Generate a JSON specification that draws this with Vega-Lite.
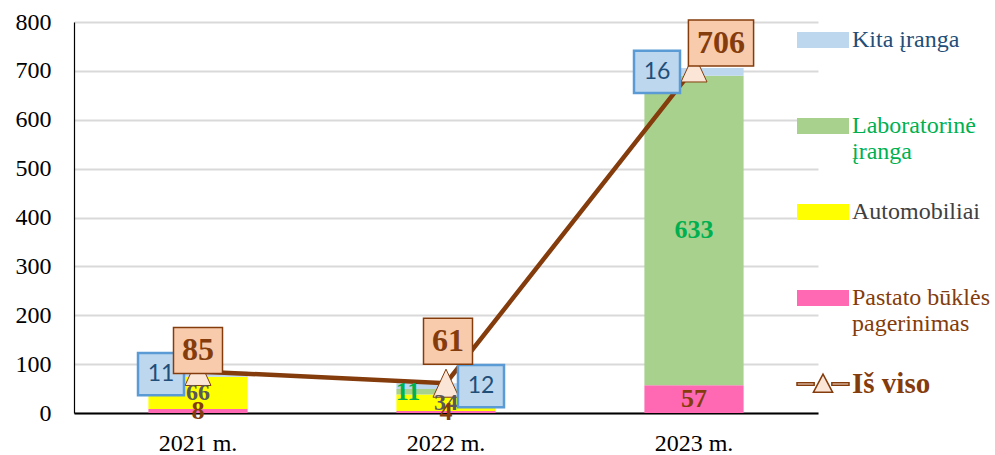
{
  "$schema": "https://vega.github.io/schema/vega-lite/v6.json",
  "width": 744,
  "height": 391,
  "autosize": {"type": "none"},
  "padding": {"left": 74, "top": 22, "right": 177, "bottom": 42},
  "background": "white",
  "config": {
    "font": "Liberation Serif",
    "view": {"stroke": null},
    "axis": {"labelFont": "Liberation Serif", "labelFontSize": 24, "labelColor": "#000000", "ticks": false, "title": null}
  },
  "datasets": {
    "parts": [
      {"year": "2021 m.", "category": "Pastato būklės pagerinimas", "value": 8},
      {"year": "2021 m.", "category": "Automobiliai", "value": 66},
      {"year": "2021 m.", "category": "Laboratorinė įranga", "value": 0},
      {"year": "2021 m.", "category": "Kita įranga", "value": 11},
      {"year": "2022 m.", "category": "Pastato būklės pagerinimas", "value": 4},
      {"year": "2022 m.", "category": "Automobiliai", "value": 34},
      {"year": "2022 m.", "category": "Laboratorinė įranga", "value": 11},
      {"year": "2022 m.", "category": "Kita įranga", "value": 12},
      {"year": "2023 m.", "category": "Pastato būklės pagerinimas", "value": 57},
      {"year": "2023 m.", "category": "Automobiliai", "value": 0},
      {"year": "2023 m.", "category": "Laboratorinė įranga", "value": 633},
      {"year": "2023 m.", "category": "Kita įranga", "value": 16}
    ],
    "totals": [
      {"year": "2021 m.", "total": 85},
      {"year": "2022 m.", "total": 61},
      {"year": "2023 m.", "total": 706}
    ]
  },
  "layer": [
    {
      "data": {"name": "parts"},
      "transform": [
        {"calculate": "indexof(['Pastato būklės pagerinimas','Automobiliai','Laboratorinė įranga','Kita įranga'], datum.category)", "as": "stackIdx"},
        {"stack": "value", "groupby": ["year"], "sort": [{"field": "stackIdx"}], "as": ["v0", "v1"]}
      ],
      "mark": {"type": "bar", "width": {"band": 0.4}},
      "encoding": {
        "x": {"field": "year", "type": "nominal", "scale": {"paddingInner": 0, "paddingOuter": 0},
          "axis": {"labelAngle": 0, "labelPadding": 18, "domainColor": "#000000", "domainWidth": 2, "grid": false}},
        "y": {"field": "v0", "type": "quantitative", "scale": {"domain": [0, 800]},
          "axis": {"values": [0, 100, 200, 300, 400, 500, 600, 700, 800], "labelPadding": 23, "domainColor": "#000000", "domainWidth": 1.2, "gridColor": "#d9d9d9", "gridWidth": 2}},
        "y2": {"field": "v1"},
        "color": {
          "field": "category", "type": "nominal",
          "scale": {
            "domain": ["Kita įranga", "Laboratorinė įranga", "Automobiliai", "Pastato būklės pagerinimas", "Iš viso"],
            "range": ["#BDD7EE", "#A9D18E", "#FFFF00", "#FF69B4", "#FBE5D6"]
          },
          "legend": {
            "orient": "none", "legendX": 737, "legendY": 6, "title": null, "direction": "vertical",
            "labelFont": "Liberation Serif", "labelFontSize": 24, "labelOffset": 17, "labelLimit": 400,
            "symbolSize": 2704, "symbolType": "M-1,-0.31H1V0.31H-1Z", "rowPadding": 34, "gridAlign": "all",
            "labelExpr": "datum.label == 'Laboratorinė įranga' ? ['Laboratorinė', 'įranga'] : datum.label == 'Pastato būklės pagerinimas' ? ['Pastato būklės', 'pagerinimas'] : datum.label",
            "encoding": {
              "symbols": {
                "shape": {"value": {"expr": "datum.value == 'Iš viso' ? 'M-1,-0.05H-0.34V0.05H-1Z M0.34,-0.05H1V0.05H0.34Z M0,-0.38L0.37,0.32H-0.37Z' : 'M-1,-0.31H1V0.31H-1Z'"}},
                "fill": {"value": {"expr": "['#BDD7EE','#A9D18E','#FFFF00','#FF69B4','#FBE5D6'][indexof(['Kita įranga','Laboratorinė įranga','Automobiliai','Pastato būklės pagerinimas','Iš viso'], datum.value)]"}},
                "stroke": {"value": {"expr": "datum.value == 'Iš viso' ? '#843C0C' : 'transparent'"}},
                "strokeWidth": {"value": {"expr": "datum.value == 'Iš viso' ? 1.5 : 0"}}
              },
              "labels": {
                "fill": {"value": {"expr": "['#1F4E79','#00B050','#404040','#843C0C','#843C0C'][indexof(['Kita įranga','Laboratorinė įranga','Automobiliai','Pastato būklės pagerinimas','Iš viso'], datum.value)]"}},
                "fontWeight": {"value": {"expr": "datum.value == 'Iš viso' ? 'bold' : 'normal'"}},
                "fontSize": {"value": {"expr": "datum.value == 'Iš viso' ? 29 : 24"}}
              }
            }
          }
        },
        "order": {"field": "stackIdx"}
      }
    },
    {
      "data": {"name": "totals"},
      "mark": {"type": "line", "color": "#843C0C", "strokeWidth": 4.5},
      "encoding": {
        "x": {"field": "year", "type": "nominal"},
        "y": {"field": "total", "type": "quantitative"}
      }
    },
    {
      "data": {"name": "totals"},
      "mark": {"type": "point", "shape": "M0,-1.08L1,1.08H-1Z", "size": 676, "filled": true, "fill": "#FBE5D6", "stroke": "#843C0C", "strokeWidth": 1, "opacity": 1},
      "encoding": {
        "x": {"field": "year", "type": "nominal"},
        "y": {"field": "total", "type": "quantitative"}
      }
    },
    {
      "data": {"name": "parts"},
      "transform": [
        {"calculate": "indexof(['Pastato būklės pagerinimas','Automobiliai','Laboratorinė įranga','Kita įranga'], datum.category)", "as": "stackIdx"},
        {"stack": "value", "groupby": ["year"], "sort": [{"field": "stackIdx"}], "as": ["v0", "v1"]},
        {"calculate": "(datum.v0 + datum.v1) / 2", "as": "mid"},
        {"filter": "datum.value > 0"}
      ],
      "layer": [
        {
          "transform": [{"filter": "datum.category == 'Automobiliai'"}],
          "mark": {"type": "text", "font": "Liberation Serif", "fontSize": 24, "fontWeight": "bold", "color": "#595959"},
          "encoding": {"x": {"field": "year", "type": "nominal"}, "y": {"field": "mid", "type": "quantitative"}, "text": {"field": "value"}}
        },
        {
          "transform": [{"filter": "datum.category == 'Laboratorinė įranga' && datum.year != '2022 m.'"}],
          "mark": {"type": "text", "font": "Liberation Serif", "fontSize": 26, "fontWeight": "bold", "color": "#00B050"},
          "encoding": {"x": {"field": "year", "type": "nominal"}, "y": {"field": "mid", "type": "quantitative"}, "text": {"field": "value"}}
        },
        {
          "transform": [{"filter": "datum.category == 'Laboratorinė įranga' && datum.year == '2022 m.'"}],
          "mark": {"type": "text", "font": "Liberation Serif", "fontSize": 26, "fontWeight": "bold", "color": "#00B050", "dx": -38},
          "encoding": {"x": {"field": "year", "type": "nominal"}, "y": {"field": "mid", "type": "quantitative"}, "text": {"field": "value"}}
        },
        {
          "transform": [{"filter": "datum.category == 'Pastato būklės pagerinimas'"}],
          "mark": {"type": "text", "font": "Liberation Serif", "fontSize": 26, "fontWeight": "bold", "color": "#843C0C"},
          "encoding": {"x": {"field": "year", "type": "nominal"}, "y": {"field": "mid", "type": "quantitative"}, "text": {"field": "value"}}
        },
        {
          "transform": [{"filter": "datum.category == 'Kita įranga' && datum.year != '2022 m.'"}],
          "layer": [
            {
              "mark": {"type": "point", "shape": "M-1,-0.92H1V0.92H-1Z", "size": 2116, "filled": true, "fill": "#BDD7EE", "stroke": "#5B9BD5", "strokeWidth": 2.5, "opacity": 1, "xOffset": -37},
              "encoding": {"x": {"field": "year", "type": "nominal"}, "y": {"field": "mid", "type": "quantitative"}}
            },
            {
              "mark": {"type": "text", "font": "Lato", "fontSize": 23, "color": "#1F4E79", "dx": -37},
              "encoding": {"x": {"field": "year", "type": "nominal"}, "y": {"field": "mid", "type": "quantitative"}, "text": {"field": "value"}}
            }
          ]
        },
        {
          "transform": [{"filter": "datum.category == 'Kita įranga' && datum.year == '2022 m.'"}],
          "layer": [
            {
              "mark": {"type": "point", "shape": "M-1,-0.92H1V0.92H-1Z", "size": 2116, "filled": true, "fill": "#BDD7EE", "stroke": "#5B9BD5", "strokeWidth": 2.5, "opacity": 1, "xOffset": 35},
              "encoding": {"x": {"field": "year", "type": "nominal"}, "y": {"field": "mid", "type": "quantitative"}}
            },
            {
              "mark": {"type": "text", "font": "Lato", "fontSize": 23, "color": "#1F4E79", "dx": 35},
              "encoding": {"x": {"field": "year", "type": "nominal"}, "y": {"field": "mid", "type": "quantitative"}, "text": {"field": "value"}}
            }
          ]
        }
      ]
    },
    {
      "data": {"name": "totals"},
      "transform": [{"filter": "datum.year == '2021 m.'"}],
      "layer": [
        {
          "mark": {"type": "point", "shape": "M-1,-0.94H1V0.94H-1Z", "size": 2401, "filled": true, "fill": "#F8CBAD", "stroke": "#843C0C", "strokeWidth": 1.5, "opacity": 1, "yOffset": -21},
          "encoding": {"x": {"field": "year", "type": "nominal"}, "y": {"field": "total", "type": "quantitative"}}
        },
        {
          "mark": {"type": "text", "font": "Liberation Serif", "fontSize": 32, "fontWeight": "bold", "color": "#843C0C", "dy": -21},
          "encoding": {"x": {"field": "year", "type": "nominal"}, "y": {"field": "total", "type": "quantitative"}, "text": {"field": "total"}}
        }
      ]
    },
    {
      "data": {"name": "totals"},
      "transform": [{"filter": "datum.year == '2022 m.'"}],
      "layer": [
        {
          "mark": {"type": "point", "shape": "M-1,-0.94H1V0.94H-1Z", "size": 2401, "filled": true, "fill": "#F8CBAD", "stroke": "#843C0C", "strokeWidth": 1.5, "opacity": 1, "yOffset": -42, "xOffset": 2},
          "encoding": {"x": {"field": "year", "type": "nominal"}, "y": {"field": "total", "type": "quantitative"}}
        },
        {
          "mark": {"type": "text", "font": "Liberation Serif", "fontSize": 32, "fontWeight": "bold", "color": "#843C0C", "dy": -42, "dx": 2},
          "encoding": {"x": {"field": "year", "type": "nominal"}, "y": {"field": "total", "type": "quantitative"}, "text": {"field": "total"}}
        }
      ]
    },
    {
      "data": {"name": "totals"},
      "transform": [{"filter": "datum.year == '2023 m.'"}],
      "layer": [
        {
          "mark": {"type": "point", "shape": "M-1.33,-0.94H1.33V0.94H-1.33Z", "size": 2401, "filled": true, "fill": "#F8CBAD", "stroke": "#843C0C", "strokeWidth": 1.5, "opacity": 1, "yOffset": -25, "xOffset": 27},
          "encoding": {"x": {"field": "year", "type": "nominal"}, "y": {"field": "total", "type": "quantitative"}}
        },
        {
          "mark": {"type": "text", "font": "Liberation Serif", "fontSize": 32, "fontWeight": "bold", "color": "#843C0C", "dy": -25, "dx": 27},
          "encoding": {"x": {"field": "year", "type": "nominal"}, "y": {"field": "total", "type": "quantitative"}, "text": {"field": "total"}}
        }
      ]
    }
  ]
}
